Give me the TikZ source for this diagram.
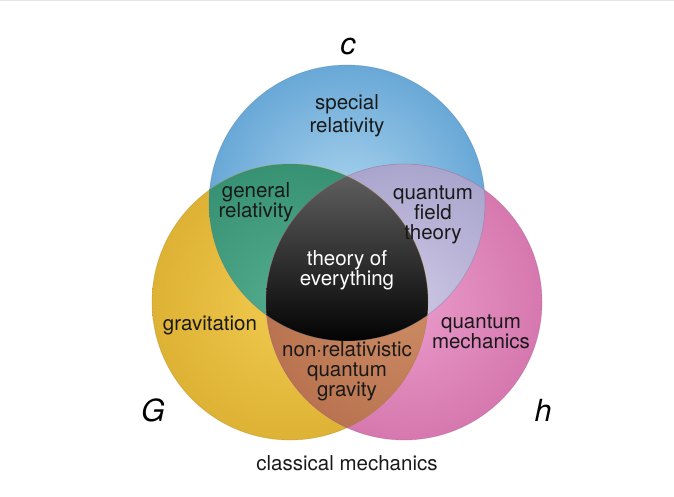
\documentclass[tikz,border=0pt]{standalone}
\usepackage{fontspec}
\setmainfont{TeX Gyre Heros}
\definecolor{blueIn}{RGB}{170,212,238}
\definecolor{blueOut}{RGB}{105,168,215}
\definecolor{yellowIn}{RGB}{240,203,80}
\definecolor{yellowOut}{RGB}{222,178,52}
\definecolor{pinkIn}{RGB}{234,155,203}
\definecolor{pinkOut}{RGB}{214,120,175}
\definecolor{greenIn}{RGB}{85,172,142}
\definecolor{greenOut}{RGB}{55,145,115}
\definecolor{lilacIn}{RGB}{205,200,228}
\definecolor{lilacOut}{RGB}{170,165,205}
\definecolor{rustIn}{RGB}{205,140,100}
\definecolor{rustOut}{RGB}{185,115,80}
\definecolor{inkText}{RGB}{25,25,25}
\tikzset{
	areaLabel/.style={align=center, text=inkText, font=\fontsize{17.5}{17}\selectfont, inner sep=0pt},
	constLabel/.style={text=black, font=\fontsize{26}{26}\selectfont\itshape, inner sep=0pt}
}

\begin{document}
\begin{tikzpicture}[x=0.03cm, y=0.03cm]
	%%%%% START %%%%%
	\useasboundingbox (0,0) rectangle (674,496);
	\draw[black!10, line width=0.03cm] (0,495.5) -- (674,495.5);
	
	\def\rad{138}
	\coordinate (cBlue) at (347,293);
	\coordinate (cYellow) at (290,194);
	\coordinate (cPink) at (404,194);
	
	% single circles
	\shade[inner color=blueIn, outer color=blueOut] (cBlue) circle (\rad);
	\shade[inner color=yellowIn, outer color=yellowOut] (cYellow) circle (\rad);
	\shade[inner color=pinkIn, outer color=pinkOut] (cPink) circle (\rad);
	
	% pairwise overlaps
	\begin{scope}
		\clip (cBlue) circle (\rad);
		\shade[inner color=greenIn, outer color=greenOut] (cYellow) circle (\rad);
	\end{scope}
	\begin{scope}
		\clip (cBlue) circle (\rad);
		\shade[inner color=lilacIn, outer color=lilacOut] (cPink) circle (\rad);
	\end{scope}
	\begin{scope}
		\clip (cYellow) circle (\rad);
		\shade[inner color=rustIn, outer color=rustOut] (cPink) circle (\rad);
	\end{scope}
	
	% all three
	\begin{scope}
		\clip (cBlue) circle (\rad);
		\clip (cYellow) circle (\rad);
		\clip (cPink) circle (\rad);
		\shade[top color=black!62, middle color=black!96, bottom color=black] (255,150) rectangle (440,325);
	\end{scope}
	
	% rims
	\draw[blueOut!70!black, line width=0.6pt, opacity=0.3] (cBlue) circle (\rad);
	\draw[yellowOut!70!black, line width=0.6pt, opacity=0.3] (cYellow) circle (\rad);
	\draw[pinkOut!70!black, line width=0.6pt, opacity=0.3] (cPink) circle (\rad);
	
	% labels
	\node[constLabel] (constC) at (348,449) {c};
	\node[constLabel] (constG) at (153,86) {G};
	\node[constLabel] (constH) at (543,86) {h};
	
	\node[areaLabel, font=\fontsize{17.5}{19.6}\selectfont] (special) at (347,380) {special\\relativity};
	\node[areaLabel] (general) at (256,294) {general\\relativity};
	\node[areaLabel] (qft) at (433,281) {quantum\\field\\theory};
	\node[areaLabel, text=white] (toe) at (347,226) {theory of\\everything};
	\node[areaLabel] (grav) at (210,171) {gravitation};
	\node[areaLabel] (qm) at (481,164) {quantum\\mechanics};
	\node[areaLabel] (nrqg) at (347,125) {non·relativistic\\quantum\\gravity};
	\node[areaLabel] (classical) at (347,33) {classical mechanics};
	
	%%%%% END %%%%%
\end{tikzpicture}
\end{document}
